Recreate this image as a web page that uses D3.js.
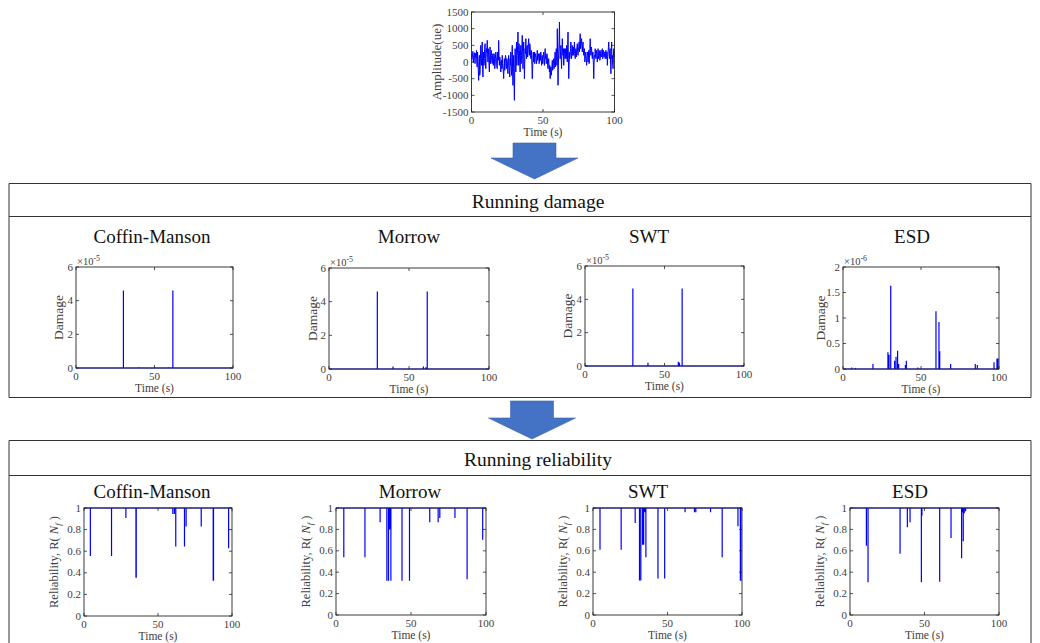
<!DOCTYPE html>
<html><head><meta charset="utf-8">
<script src="https://cdn.jsdelivr.net/npm/d3@7"></script>
<style>
body{margin:0;background:#fff}
svg{display:block}
text{font-family:"Liberation Serif","Times New Roman",serif;}
</style>
</head><body><svg id="c" width="1040" height="643"></svg>
<script>
// ---------- DATA ----------
const methods = ["Coffin-Manson", "Morrow", "SWT", "ESD"];
const xTicks = [0, 50, 100];
const signalYTicks = [-1500, -1000, -500, 0, 500, 1000, 1500];
const damageYTicksE5 = [0, 2, 4, 6];
const damageYTicksE6 = [0, 0.5, 1, 1.5, 2];
const reliabilityYTicks = [0, 0.2, 0.4, 0.6, 0.8, 1];

// strain amplitude sampled every 0.25 s (0..100 s)
const signalValues = [
  250,80,150,260,320,-20,100,200,280,120,-50,260,200,130,350,-80,-150,300,100,-250,
  -550,-100,200,-400,-300,150,500,100,-100,350,600,-150,-450,50,300,-100,100,450,550,100,
  -200,150,400,300,650,250,0,400,300,-100,-300,200,450,-50,100,350,200,0,-50,150,
  250,-100,0,250,150,-200,-100,100,300,150,50,-150,-200,300,200,50,650,200,-100,150,
  100,-100,-300,0,50,-200,200,-50,-150,-300,-500,-100,100,-250,-50,200,150,-100,-200,100,
  0,-150,-350,50,200,-100,-250,-450,100,-100,300,-200,-400,100,500,-300,-700,-200,200,-600,
  -1150,-200,400,100,-300,350,600,-100,200,500,900,300,-100,550,350,0,-300,200,500,-50,
  200,450,800,300,-200,250,600,100,-500,0,400,250,700,350,100,450,500,150,300,550,
  700,350,200,550,450,200,100,350,300,-100,-500,-200,200,300,0,150,300,-50,100,250,
  200,100,-50,150,350,50,100,200,250,-50,0,250,150,50,300,100,-100,50,200,-50,
  100,200,300,0,-100,150,400,100,200,-50,0,250,150,-100,-200,0,100,-150,-300,-100,
  -500,-300,-150,-400,-300,-100,50,-250,-200,0,100,-200,-100,150,300,-150,0,400,200,-100,
  1000,200,-700,-100,300,600,1200,400,100,200,500,100,-200,300,700,300,200,400,-100,150,
  400,200,100,400,300,100,500,250,0,500,900,100,-500,-100,300,100,200,400,600,300,
  100,350,500,200,300,450,200,400,600,250,100,350,400,150,300,450,550,300,200,350,
  450,600,300,550,850,400,500,650,700,450,300,500,600,350,200,350,400,0,100,250,
  300,50,-100,150,200,300,0,200,350,-50,100,400,700,350,200,450,400,200,100,300,
  300,-100,-500,0,200,150,400,250,100,350,300,150,0,200,400,100,200,350,300,50,
  100,250,350,150,200,350,400,100,150,350,300,150,250,300,100,250,350,100,200,300,
  -100,150,300,450,600,250,100,350,400,0,-350,300,600,100,200,-100,-200,200,400,150,
  300
];
const signalStep = 0.25;

// running damage spikes: [time (s), damage]
const damageCM = [[30.2,4.6e-5],[40,0.05e-5],[59,0.05e-5],[61.7,4.6e-5]];
const damageMorrow = [[30.2,4.6e-5],[40,0.15e-5],[59,0.15e-5],[60.5,0.1e-5],[61.4,4.6e-5]];
const damageSWT = [[30.1,4.65e-5],[39.6,0.2e-5],[58.7,0.25e-5],[59.4,0.2e-5],[61.1,4.65e-5]];
const damageESD = [[5.6,0.03e-6],[8,0.02e-6],[19.2,0.1e-6],[28.8,0.33e-6],[29.5,0.28e-6],[30.6,1.63e-6],
  [33.1,0.16e-6],[34,0.24e-6],[35,0.36e-6],[35.7,0.1e-6],[40,0.08e-6],[40.6,0.16e-6],[48,0.03e-6],
  [59.6,1.13e-6],[61.5,0.92e-6],[62,0.35e-6],[69,0.1e-6],[84.8,0.1e-6],[86.1,0.08e-6],
  [96.8,0.13e-6],[98.7,0.2e-6],[99.4,0.21e-6]];

// running reliability dips: [time (s), R]
const relCM = [[4.3,0.556],[18.6,0.556],[28.3,0.907],[35.1,0.354],[35.3,0.354],[60,0.944],[61.1,0.944],
  [62,0.643],[67.9,0.643],[69,0.829],[79.2,0.829],[87.3,0.326],[87.5,0.326],[97.7,0.627]];
const relMorrow = [[5.2,0.54],[19.3,0.54],[29.4,0.866],[33.9,0.319],[35,0.319],[35.7,0.8],[36.1,0.8],
  [36.6,0.319],[44,0.319],[49,0.319],[62.5,0.866],[68.1,0.866],[69.2,0.906],[79.3,0.906],
  [87.4,0.334],[97.8,0.703]];
const relSWT = [[4.7,0.61],[18.9,0.61],[28.3,0.86],[31.2,0.322],[32.1,0.322],[33.3,0.656],[34,0.656],
  [34.8,0.96],[35.5,0.54],[43.6,0.34],[48.1,0.34],[61.8,0.96],[68.1,0.96],[69,0.96],[78.9,0.96],
  [86.7,0.54],[97.3,0.83],[98.9,0.32],[99.3,0.32]];
const relESD = [[11,0.647],[12.1,0.306],[33.6,0.572],[38.5,0.82],[40.3,0.866],[47.9,0.306],[48.3,0.93],
  [60.2,0.31],[67.8,0.72],[74.9,0.53],[75.6,0.96],[76,0.69],[76.7,0.95],[77.6,0.97]];

const damageSeries = [damageCM, damageMorrow, damageSWT, damageESD];
const reliabilitySeries = [relCM, relMorrow, relSWT, relESD];

// ---------- LAYOUT ----------
const svg = d3.select("#c");
const AX = "#262626", TXT = "#404040", BLUE = "#0000ff", ARROW = "#4472c4";

const topBox = {l:471.5, r:614.5, t:12, b:112};
const dmgBoxes = [
  {l:76, r:233, t:267, b:368, tc:152, yo:13},
  {l:329, r:489, t:268, b:369, tc:409, yo:12},
  {l:585, r:744, t:266, b:366, tc:649, yo:13},
  {l:843, r:999, t:267, b:369, tc:912, yo:18.5}
];
const relBoxes = [
  {l:84, r:232, t:508, b:616, tc:152},
  {l:336, r:486, t:508, b:615, tc:410},
  {l:593, r:742, t:508, b:615, tc:648},
  {l:850, r:999, t:508, b:615, tc:910}
];

function axesFrame(g, box, x, y, yticks, yfmt, ylabel, ylabOff, ylabSize) {
  const tl = 3;
  xTicks.forEach(v => {
    const px = x(v);
    g.append("line").attr("x1",px).attr("x2",px).attr("y1",box.b).attr("y2",box.b-tl).attr("stroke",AX).attr("stroke-width",0.8);
    g.append("line").attr("x1",px).attr("x2",px).attr("y1",box.t).attr("y2",box.t+tl).attr("stroke",AX).attr("stroke-width",0.8);
    g.append("text").attr("x",px).attr("y",box.b+12).attr("text-anchor","middle").attr("font-size",11).attr("fill",TXT).text(v);
  });
  yticks.forEach(v => {
    const py = y(v);
    g.append("line").attr("x1",box.l).attr("x2",box.l+tl).attr("y1",py).attr("y2",py).attr("stroke",AX).attr("stroke-width",0.8);
    g.append("line").attr("x1",box.r).attr("x2",box.r-tl).attr("y1",py).attr("y2",py).attr("stroke",AX).attr("stroke-width",0.8);
    g.append("text").attr("x",box.l-3).attr("y",py+3.5).attr("text-anchor","end").attr("font-size",11).attr("fill",TXT).text(yfmt(v));
  });
  g.append("text").attr("x",(box.l+box.r)/2).attr("y",box.b+24).attr("text-anchor","middle").attr("font-size",11.5).attr("fill",TXT).text("Time (s)");
  const cy = (box.t+box.b)/2;
  const yl = g.append("text").attr("transform",`translate(${box.l-ylabOff},${cy}) rotate(-90)`).attr("text-anchor","middle").attr("font-size",ylabSize).attr("fill",TXT);
  ylabel(yl);
}
function frameRect(g, box) {
  g.append("rect").attr("x",box.l).attr("y",box.t).attr("width",box.r-box.l).attr("height",box.b-box.t)
    .attr("fill","none").attr("stroke",AX).attr("stroke-width",0.9);
}

// ---------- TOP SIGNAL ----------
{
  const g = svg.append("g");
  const x = d3.scaleLinear().domain([0,100]).range([topBox.l, topBox.r]);
  const y = d3.scaleLinear().domain([-1500,1500]).range([topBox.b, topBox.t]);
  const line = d3.line().x((d,i)=>x(i*signalStep)).y(d=>y(d));
  g.append("path").datum(signalValues).attr("d",line).attr("fill","none").attr("stroke",BLUE).attr("stroke-width",1);
  axesFrame(g, topBox, x, y, signalYTicks, d=>d, t=>t.text("Amplitude(ue)"), 31, 13);
  frameRect(g, topBox);
}

// ---------- ARROWS ----------
function arrow(cx, top, shaftW, headY, headW, tip) {
  const p = d3.path();
  p.moveTo(cx-shaftW/2, top); p.lineTo(cx+shaftW/2, top); p.lineTo(cx+shaftW/2, headY);
  p.lineTo(cx+headW/2, headY); p.lineTo(cx, tip); p.lineTo(cx-headW/2, headY);
  p.lineTo(cx-shaftW/2, headY); p.closePath();
  svg.append("path").attr("d", p.toString()).attr("fill",ARROW).attr("stroke","#3a62ad").attr("stroke-width",0.6);
}
arrow(534.5, 143, 43, 158, 87, 179);
arrow(532, 401, 43, 418, 87, 439);

// ---------- SECTION BOXES ----------
function section(y0, yh, y1, title, ty) {
  const g = svg.append("g");
  [y0, yh, y1].forEach(yy => g.append("line").attr("x1",9).attr("x2",1031).attr("y1",yy).attr("y2",yy).attr("stroke","#333").attr("stroke-width",1));
  [9, 1031].forEach(xx => g.append("line").attr("x1",xx).attr("x2",xx).attr("y1",y0).attr("y2",y1).attr("stroke","#333").attr("stroke-width",1));
  g.append("text").attr("x",538).attr("y",ty).attr("text-anchor","middle").attr("font-size",19.5).attr("fill","#111").text(title);
}
section(183.5, 216.5, 397.5, "Running damage", 208);
section(440.5, 475.5, 660, "Running reliability", 466);

// ---------- SPIKE PATH ----------
function spikePoints(spikes, base) {
  const pts = [[0, base]];
  spikes.slice().sort((a,b)=>a[0]-b[0]).forEach(s => { pts.push([s[0], base], [s[0], s[1]], [s[0], base]); });
  pts.push([100, base]);
  return pts;
}

// ---------- DAMAGE ----------
methods.forEach((m, i) => {
  const box = dmgBoxes[i];
  const g = svg.append("g");
  const isESD = i === 3;
  const scale = isESD ? 1e-6 : 1e-5;
  const yt = isESD ? damageYTicksE6 : damageYTicksE5;
  const x = d3.scaleLinear().domain([0,100]).range([box.l, box.r]);
  const y = d3.scaleLinear().domain([0, yt[yt.length-1]*scale]).range([box.b, box.t]);
  const line = d3.line().x(d=>x(d[0])).y(d=>y(d[1]));
  g.append("path").datum(spikePoints(damageSeries[i], 0)).attr("d",line).attr("fill","none").attr("stroke",BLUE).attr("stroke-width",1.2);
  axesFrame(g, box, x, y, yt.map(v=>v*scale), v=>+(v/scale).toFixed(1), t=>t.text("Damage"), box.yo, 13.5);
  frameRect(g, box);
  const ex = g.append("text").attr("x",box.l+1).attr("y",box.t-2).attr("font-size",10.5).attr("fill",TXT);
  ex.append("tspan").text("\u00d710");
  ex.append("tspan").attr("dy",-4).attr("font-size",8).text(isESD ? "-6" : "-5");
  g.append("text").attr("x",box.tc).attr("y",243).attr("text-anchor","middle").attr("font-size",19).attr("fill","#111").text(m);
});

// ---------- RELIABILITY ----------
methods.forEach((m, i) => {
  const box = relBoxes[i];
  const g = svg.append("g");
  const x = d3.scaleLinear().domain([0,100]).range([box.l, box.r]);
  const y = d3.scaleLinear().domain([0,1]).range([box.b, box.t]);
  const line = d3.line().x(d=>x(d[0])).y(d=>y(d[1]));
  g.append("path").datum(spikePoints(reliabilitySeries[i], 1)).attr("d",line).attr("fill","none").attr("stroke",BLUE).attr("stroke-width",1.2);
  axesFrame(g, box, x, y, reliabilityYTicks, v=>v, t=>{
    t.append("tspan").text("Reliability, R( ");
    t.append("tspan").attr("font-style","italic").text("N");
    t.append("tspan").attr("font-style","italic").attr("font-size",9).attr("dy",3).text("f");
    t.append("tspan").attr("dy",-3).text(" )");
  }, 26, 12.5);
  frameRect(g, box);
  g.append("text").attr("x",box.tc).attr("y",498).attr("text-anchor","middle").attr("font-size",19).attr("fill","#111").text(m);
});
</script>
</body></html>
